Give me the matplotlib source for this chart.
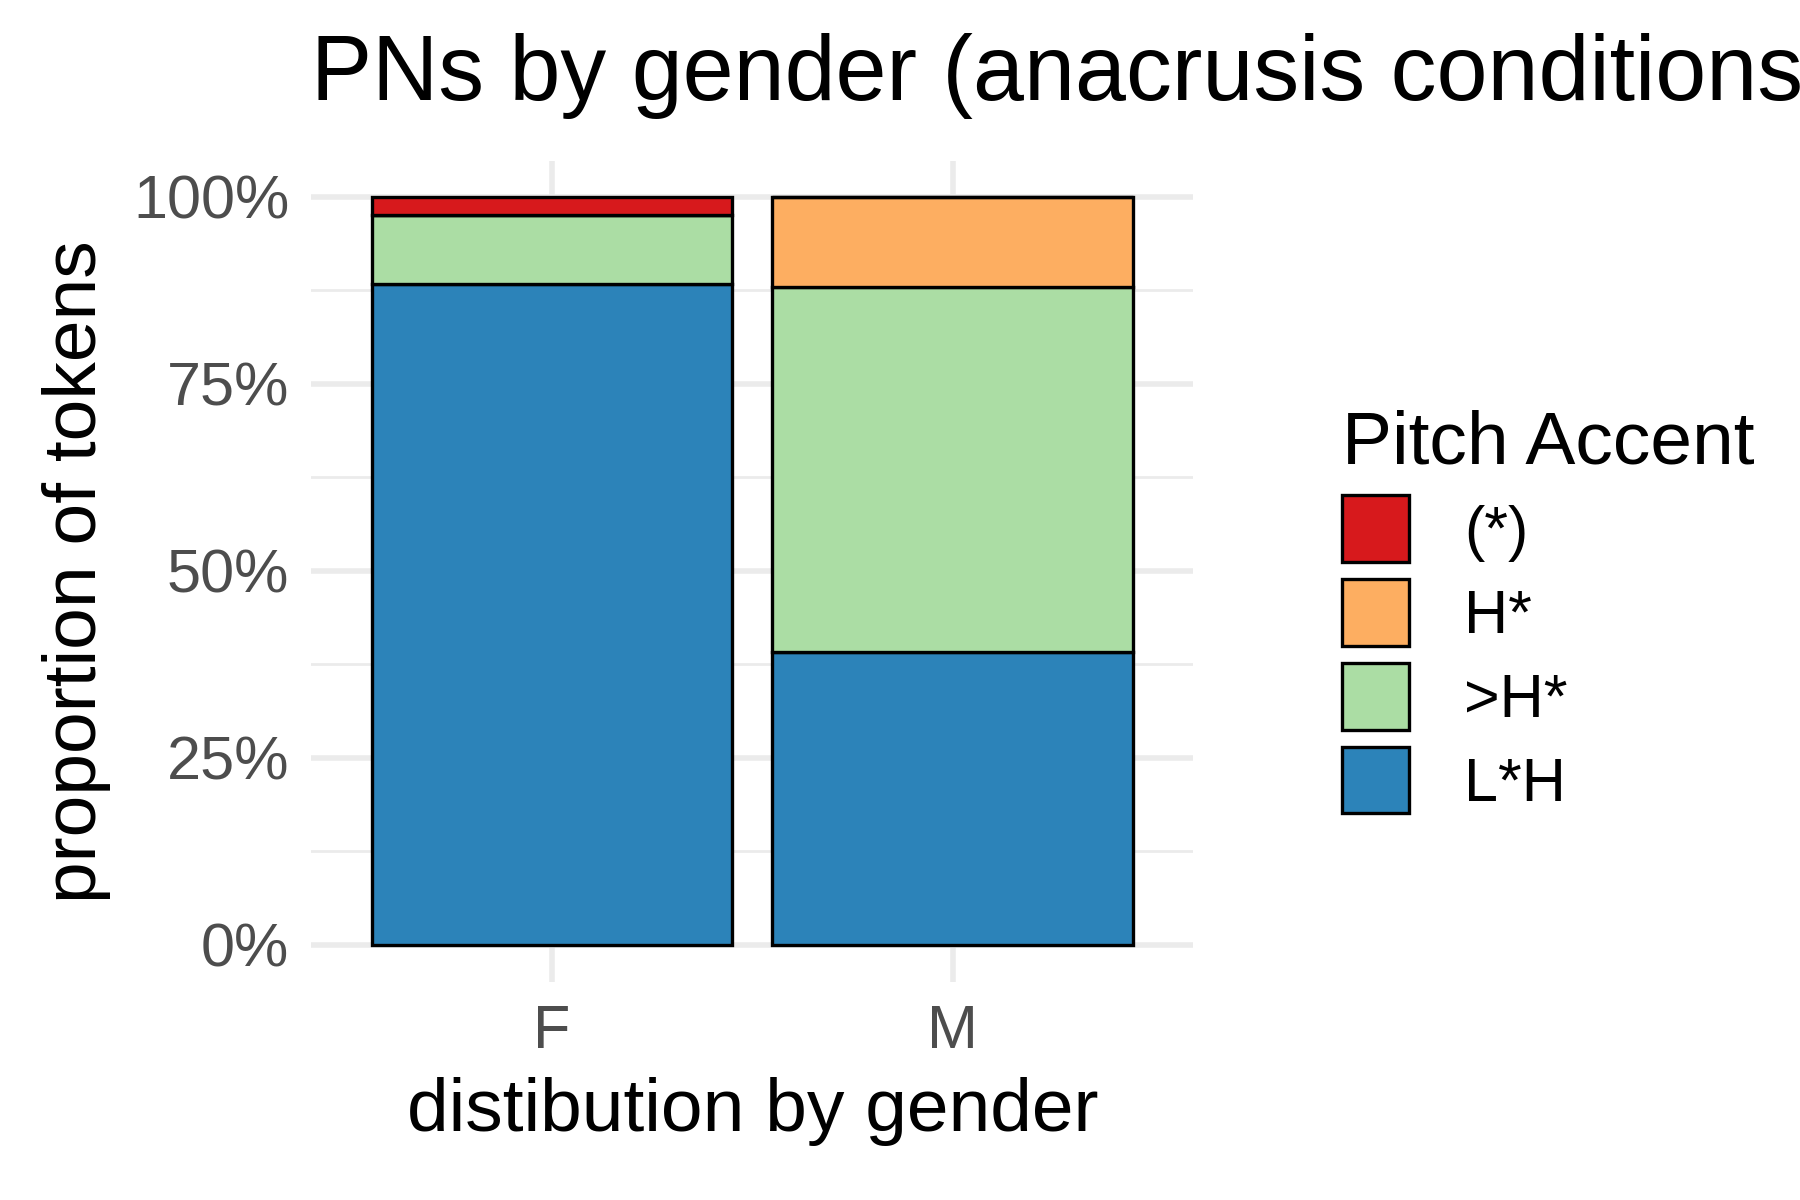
import matplotlib.pyplot as plt
from matplotlib.patches import Patch

plt.rcParams['font.family'] = ['Liberation Sans', 'DejaVu Sans']

genders = ["F", "M"]
accents = ["L*H", ">H*", "H*", "(*)"]
colors = {"L*H": "#2C83B9", ">H*": "#ABDDA4", "H*": "#FDAE61", "(*)": "#D7191C"}
shares = {
    "L*H": [0.883, 0.391],
    ">H*": [0.092, 0.489],
    "H*": [0.0, 0.120],
    "(*)": [0.025, 0.0],
}

fig = plt.figure(figsize=(9, 6), dpi=200)
ax = fig.add_axes([0.173, 0.182, 0.49, 0.684])
x = range(len(genders))
bottom = [0.0, 0.0]
for a in accents:
    vals = shares[a]
    ax.bar(x, vals, bottom=bottom, width=0.9, color=colors[a],
           edgecolor="black", linewidth=1.2, zorder=3)
    bottom = [b + v for b, v in zip(bottom, vals)]

ax.set_xlim(-0.6, 1.6)
ax.set_ylim(-0.049, 1.048)
ax.set_yticks([0, 0.25, 0.5, 0.75, 1.0])
ax.set_yticklabels(["0%", "25%", "50%", "75%", "100%"])
ax.set_yticks([0.125, 0.375, 0.625, 0.875], minor=True)
ax.set_xticks(list(x))
ax.set_xticklabels(genders)
ax.grid(True, which="major", color="#EBEBEB", linewidth=2, zorder=0)
ax.grid(True, which="minor", axis="y", color="#EBEBEB", linewidth=1, zorder=0)
for s in ax.spines.values():
    s.set_visible(False)
ax.tick_params(which="both", length=0, labelsize=22, labelcolor="#4D4D4D", pad=8)
ax.set_xlabel("distibution by gender", fontsize=27, labelpad=6)
ax.set_ylabel("proportion of tokens", fontsize=27, labelpad=8)
ax.set_title("PNs by gender (anacrusis conditions)", fontsize=33, loc="left",
             x=0.0, pad=22)

handles = [Patch(facecolor=colors[a], edgecolor="black", linewidth=1.2)
           for a in ["(*)", "H*", ">H*", "L*H"]]
fig.legend(handles, ["(*)", "H*", ">H*", "L*H"], title="Pitch Accent",
           loc="upper left", bbox_to_anchor=(0.715, 0.705), frameon=False,
           fontsize=22, title_fontsize=27, handlelength=1.1, handleheight=1.3,
           labelspacing=0.28, alignment="left", handletextpad=0.9)

fig.savefig("out.png")
